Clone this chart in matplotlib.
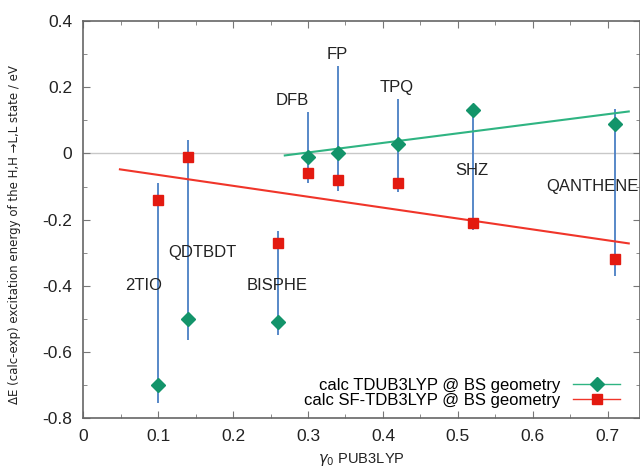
import matplotlib
matplotlib.use("Agg")
import matplotlib.pyplot as plt
from matplotlib.lines import Line2D
from matplotlib.ticker import MultipleLocator

plt.rcParams["font.family"] = ["Liberation Sans", "DejaVu Sans"]

# data
molecules = ["2TIO", "QDTBDT", "BISPHE", "DFB", "FP", "TPQ", "SHZ", "QANTHENE"]
gamma0 = [0.10, 0.14, 0.26, 0.30, 0.34, 0.42, 0.52, 0.71]
tdub3lyp = [-0.70, -0.50, -0.51, -0.01, 0.00, 0.03, 0.13, 0.09]
sf_tdb3lyp = [-0.14, -0.01, -0.27, -0.06, -0.08, -0.09, -0.21, -0.32]
bar_hi = [-0.09, 0.04, -0.235, 0.125, 0.265, 0.165, 0.13, 0.133]
bar_lo = [-0.755, -0.565, -0.55, -0.088, -0.115, -0.118, -0.23, -0.37]

# label positions (x, y) for the molecule names
label_x = [0.08, 0.159, 0.259, 0.279, 0.339, 0.418, 0.519, 0.679]
label_y = [-0.40, -0.30, -0.40, 0.16, 0.30, 0.20, -0.05, -0.10]

# trend lines (end points)
fit_td_x = [0.269, 0.728]
fit_td_y = [-0.006, 0.127]
fit_sf_x = [0.049, 0.728]
fit_sf_y = [-0.048, -0.272]

green = "#13946a"
green_fit = "#2fb482"
red = "#e31a10"
red_fit = "#f0352a"
blue = "#4a7fc4"

fig = plt.figure(figsize=(6.4, 4.71), dpi=100)
ax = fig.add_axes([0.130, 0.1125, 0.870, 0.8425])

ax.axhline(0, color="#c8c8c8", lw=1.0, zorder=1)

ax.vlines(gamma0, bar_lo, bar_hi, color=blue, lw=1.3, zorder=2)
ax.plot(fit_td_x, fit_td_y, color=green_fit, lw=1.5, zorder=3)
ax.plot(fit_sf_x, fit_sf_y, color=red_fit, lw=1.5, zorder=3)

ax.plot(gamma0, tdub3lyp, ls="none", marker="D", ms=7.5, color=green, zorder=4)
ax.plot(gamma0, sf_tdb3lyp, ls="none", marker="s", ms=7, color=red, zorder=4)

for name, x, y in zip(molecules, label_x, label_y):
    ax.text(x, y, name, ha="center", va="center", fontsize=12, color="#222222")

ax.set_xlim(0, 0.743)
ax.set_ylim(-0.8, 0.4)
ax.xaxis.set_minor_locator(MultipleLocator(0.05))
ax.yaxis.set_minor_locator(MultipleLocator(0.1))
ax.set_xticks([0, 0.1, 0.2, 0.3, 0.4, 0.5, 0.6, 0.7])
ax.set_xticklabels(["0", "0.1", "0.2", "0.3", "0.4", "0.5", "0.6", "0.7"])
ax.set_yticks([-0.8, -0.6, -0.4, -0.2, 0, 0.2, 0.4])
ax.set_yticklabels(["-0.8", "-0.6", "-0.4", "-0.2", "0", "0.2", "0.4"])
ax.tick_params(which="both", direction="in", top=True, right=True,
               color="#777777", labelsize=12.5, labelcolor="#222222")
ax.tick_params(which="major", length=5, pad=8)
ax.tick_params(which="minor", length=3)
for s in ax.spines.values():
    s.set_color("#666666")
    s.set_linewidth(1.2)

ax.set_xlabel(r"$\gamma_0$ PUB3LYP", fontsize=10.5, labelpad=5, color="#222222")
ax.set_ylabel("\u0394E (calc-exp) excitation energy of the H,H \u2192L,L state / eV",
              fontsize=8.5, color="#222222", family=["DejaVu Sans"])
ax.yaxis.set_label_coords(-0.112, 0.463)

handles = [
    Line2D([], [], color=green_fit, lw=1.0, marker="D", ms=7, mfc=green, mec=green),
    Line2D([], [], color=red_fit, lw=1.0, marker="s", ms=7, mfc=red, mec=red),
]
ax.legend(handles, ["calc TDUB3LYP @ BS geometry", "calc SF-TDB3LYP @ BS geometry"],
          loc="lower right", frameon=False, fontsize=12, markerfirst=False,
          handlelength=2.8, handletextpad=0.8, labelspacing=0.02,
          borderaxespad=0.3, bbox_to_anchor=(0.985, -0.005))

fig.savefig("out.png", dpi=100)
